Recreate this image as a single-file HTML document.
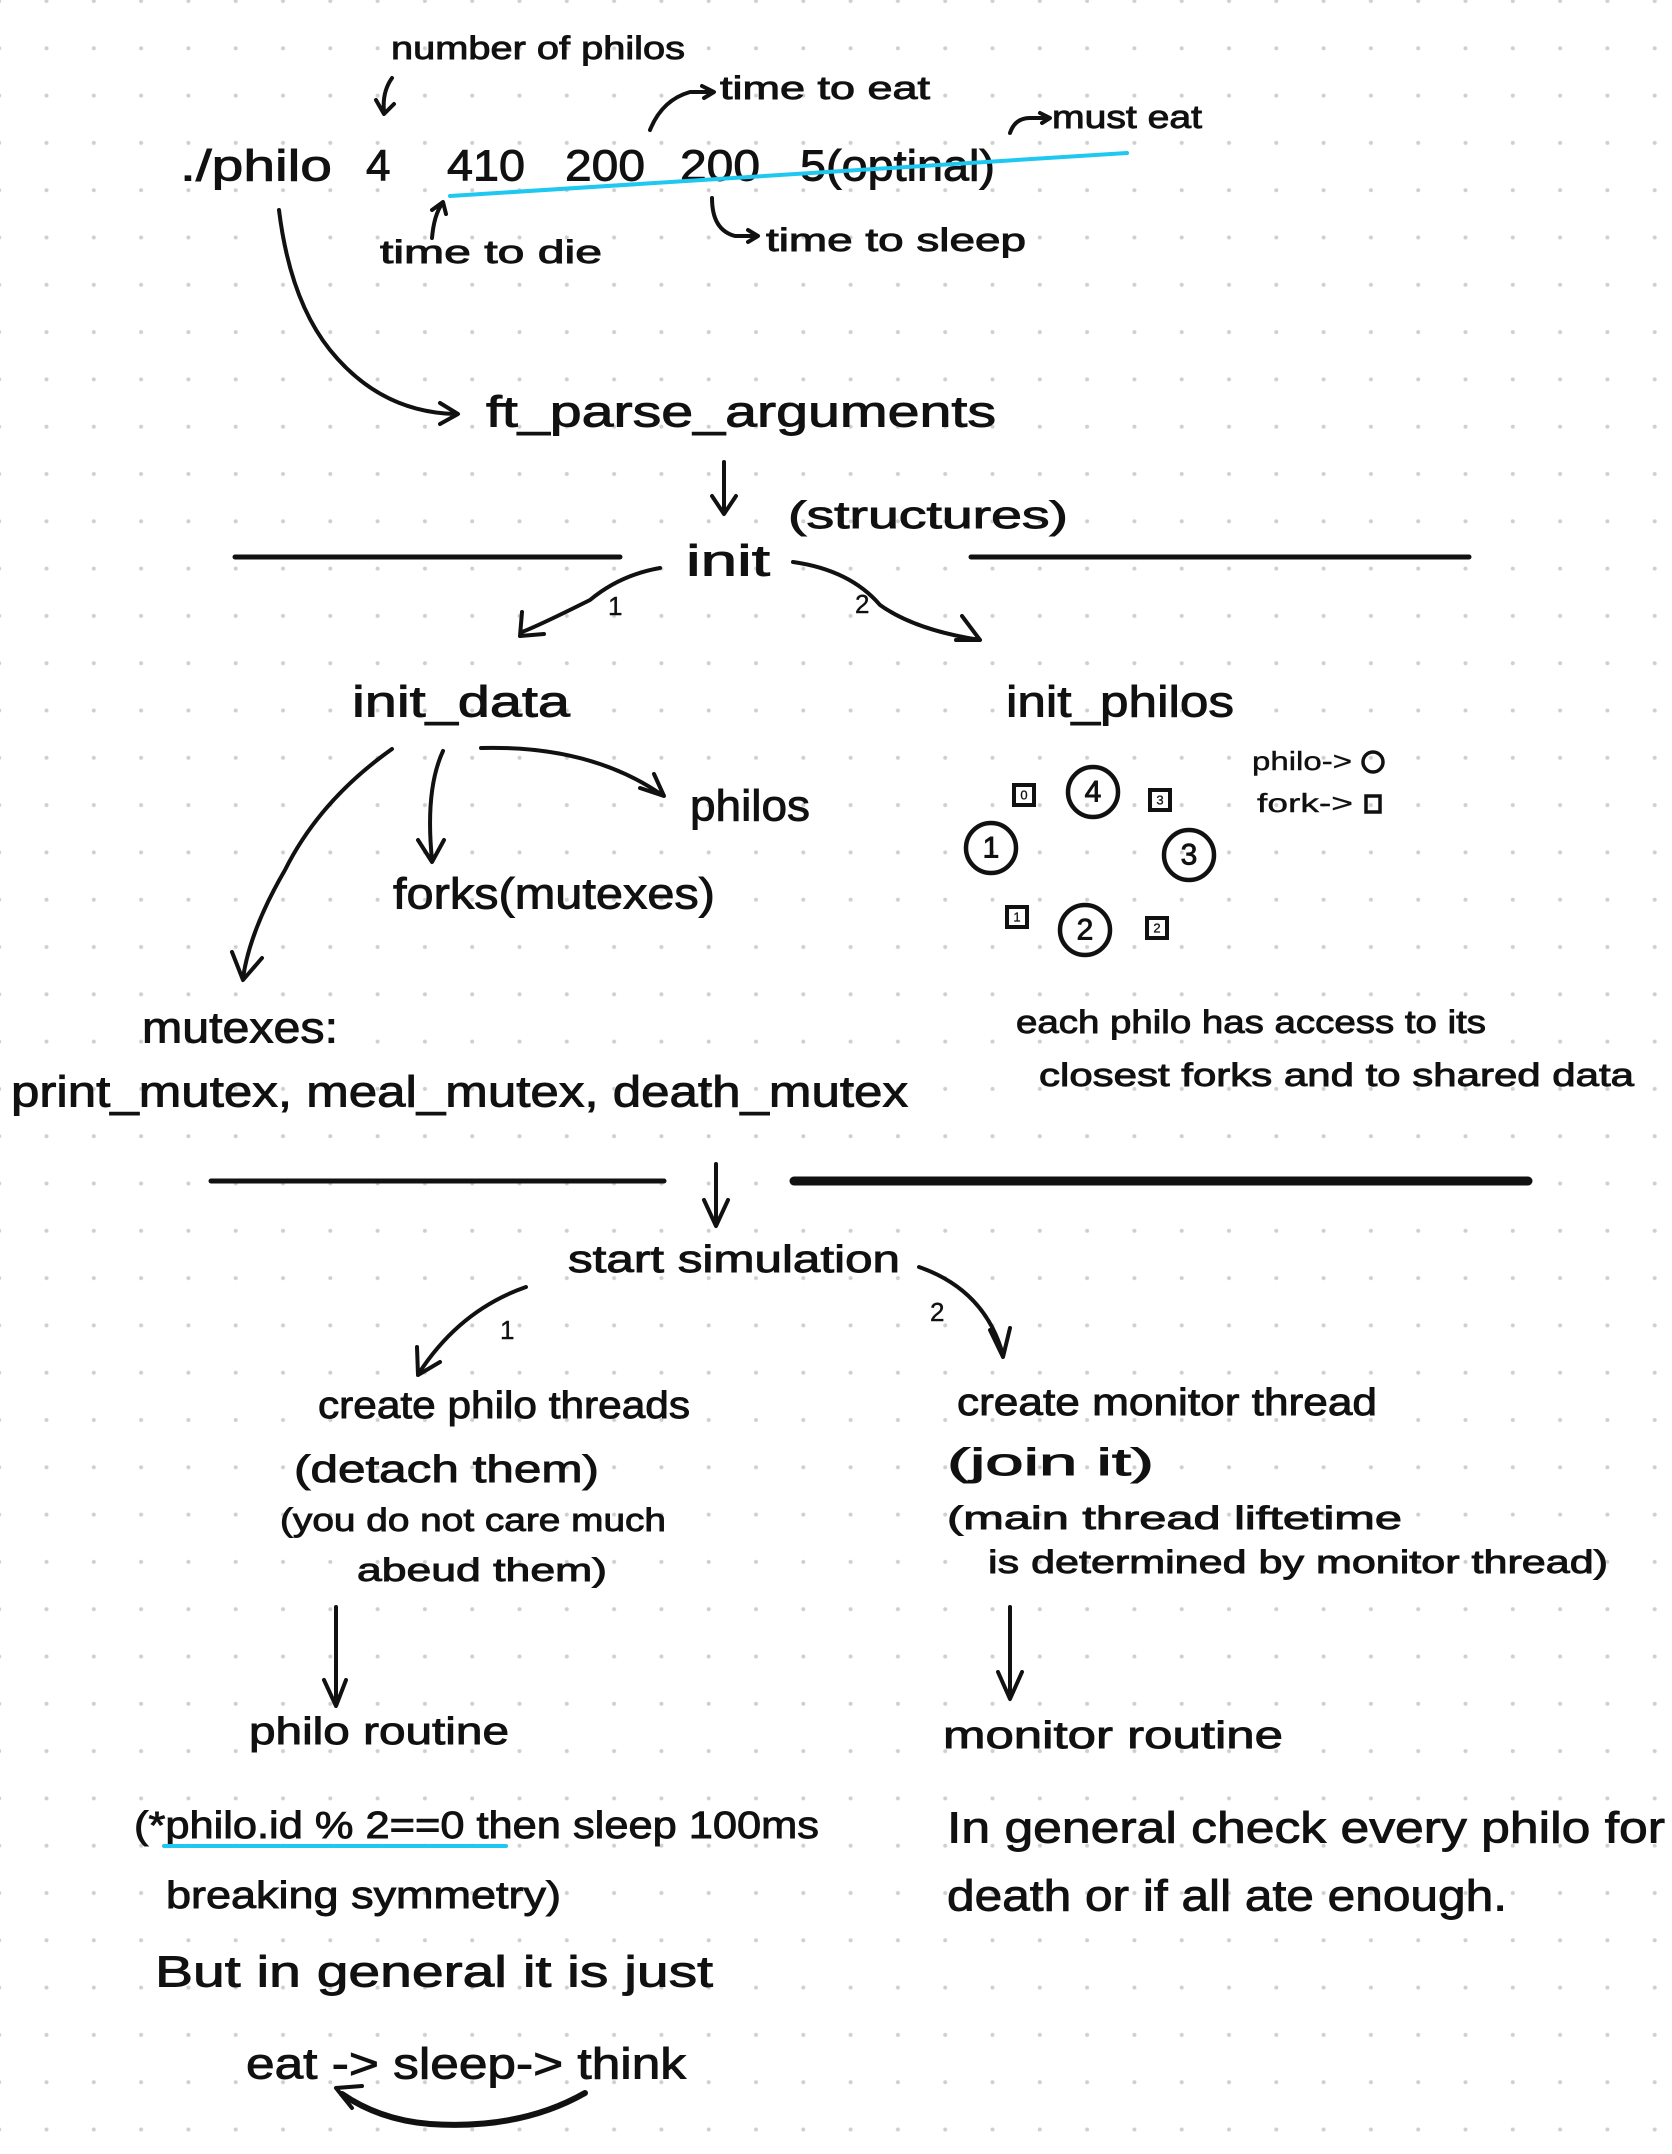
<!DOCTYPE html>
<html><head><meta charset="utf-8"><style>
html,body{margin:0;padding:0;background:#fff;}
svg{display:block;}
text{font-family:"Liberation Sans",sans-serif;fill:#111;stroke:#111;stroke-width:0.9;dominant-baseline:central;}
.t{font-size:44px;}
.m{font-size:38px;}
.s{font-size:32px;}
.xs{font-size:26px;stroke-width:0.4;}
path,line{stroke:#111;fill:none;stroke-width:4;stroke-linecap:round;stroke-linejoin:round;}
</style></head><body>
<svg width="1672" height="2154" viewBox="0 0 1672 2154" xmlns="http://www.w3.org/2000/svg">
<defs>
<pattern id="d" x="22.85" y="-22.65" width="47.3" height="47.3" patternUnits="userSpaceOnUse">
<circle cx="23.65" cy="23.65" r="2" fill="#cfcfcf"/>
</pattern>
</defs>
<rect width="1672" height="2154" fill="#fff"/>
<rect width="1672" height="2154" fill="url(#d)"/>

<!-- top command -->
<text class="s" x="391" y="48" textLength="294" lengthAdjust="spacingAndGlyphs">number of philos</text>
<path d="M392 78 Q382 92 384 112 M376 100 L384 114 L394 104"/>
<text class="t" x="180" y="166" textLength="152" lengthAdjust="spacingAndGlyphs">./philo</text>
<text class="t" x="366" y="166">4</text>
<text class="t" x="447" y="166" textLength="78" lengthAdjust="spacingAndGlyphs">410</text>
<text class="t" x="565" y="166" textLength="80" lengthAdjust="spacingAndGlyphs">200</text>
<text class="t" x="680" y="166" textLength="80" lengthAdjust="spacingAndGlyphs">200</text>
<text class="t" x="800" y="166" textLength="195" lengthAdjust="spacingAndGlyphs">5(optinal)</text>
<line x1="450" y1="196" x2="1127" y2="153" style="stroke:#1ec8f0;stroke-width:4"/>
<path d="M650 130 Q662 100 690 92 L712 92 M702 86 L714 92 L704 98"/>
<text class="s" x="720" y="88" textLength="210" lengthAdjust="spacingAndGlyphs">time to eat</text>
<path d="M1010 133 Q1015 118 1030 118 L1048 118 M1040 113 L1050 118 L1042 123"/>
<text class="s" x="1052" y="117" textLength="150" lengthAdjust="spacingAndGlyphs">must eat</text>
<path d="M432 238 Q434 215 442 204 M432 210 L443 202 L446 214"/>
<text class="s" x="380" y="252" textLength="222" lengthAdjust="spacingAndGlyphs">time to die</text>
<path d="M712 198 Q712 230 735 236 L756 236 M748 230 L758 236 L748 242"/>
<text class="s" x="766" y="240" textLength="260" lengthAdjust="spacingAndGlyphs">time to sleep</text>

<path d="M279 210 Q290 300 330 350 Q380 412 455 414 M440 403 L458 414 L440 424"/>
<text class="t" x="486" y="412" textLength="510" lengthAdjust="spacingAndGlyphs">ft_parse_arguments</text>
<path d="M724 462 L724 512 M712 496 L724 514 L736 496"/>
<text class="m" x="788" y="516" textLength="280" lengthAdjust="spacingAndGlyphs">(structures)</text>

<line x1="235" y1="557" x2="620" y2="557" style="stroke-width:5"/>
<line x1="971" y1="557" x2="1469" y2="557" style="stroke-width:5"/>
<text class="t" x="686" y="561" textLength="84" lengthAdjust="spacingAndGlyphs">init</text>
<path d="M660 568 Q620 575 590 600 Q540 625 522 632 M522 612 L520 636 L544 634"/>
<text class="xs" x="608" y="606">1</text>
<path d="M793 562 Q850 570 880 605 Q915 630 980 640 M962 616 L980 640 L956 640"/>
<text class="xs" x="855" y="604">2</text>

<!-- init_data -->
<text class="t" x="352" y="702" textLength="218" lengthAdjust="spacingAndGlyphs">init_data</text>
<path d="M392 749 Q320 800 285 870 Q250 930 243 978 M232 952 L243 980 L262 958"/>
<path d="M443 751 Q425 790 432 860 M418 840 L432 862 L444 840"/>
<path d="M481 748 Q590 745 662 795 M640 788 L664 796 L654 774"/>
<text class="t" x="690" y="806" textLength="120" lengthAdjust="spacingAndGlyphs">philos</text>
<text class="t" x="393" y="894" textLength="322" lengthAdjust="spacingAndGlyphs">forks(mutexes)</text>
<text class="t" x="142" y="1028" textLength="196" lengthAdjust="spacingAndGlyphs">mutexes:</text>
<text class="t" x="11" y="1092" textLength="897" lengthAdjust="spacingAndGlyphs">print_mutex, meal_mutex, death_mutex</text>

<!-- init_philos -->
<text class="t" x="1006" y="702" textLength="228" lengthAdjust="spacingAndGlyphs">init_philos</text>
<circle cx="1093" cy="792" r="25" fill="none" stroke="#111" stroke-width="4.5"/>
<circle cx="991" cy="848" r="25" fill="none" stroke="#111" stroke-width="4.5"/>
<circle cx="1189" cy="855" r="25" fill="none" stroke="#111" stroke-width="4.5"/>
<circle cx="1085" cy="930" r="25" fill="none" stroke="#111" stroke-width="4.5"/>
<rect x="1014" y="785" width="20" height="20" fill="none" stroke="#111" stroke-width="4"/>
<rect x="1150" y="790" width="20" height="20" fill="none" stroke="#111" stroke-width="4"/>
<rect x="1007" y="907" width="20" height="20" fill="none" stroke="#111" stroke-width="4"/>
<rect x="1147" y="918" width="20" height="20" fill="none" stroke="#111" stroke-width="4"/>
<text x="1093" y="792" font-size="30" text-anchor="middle">4</text>
<text x="991" y="848" font-size="30" text-anchor="middle">1</text>
<text x="1189" y="855" font-size="30" text-anchor="middle">3</text>
<text x="1085" y="930" font-size="30" text-anchor="middle">2</text>
<text x="1024" y="795" font-size="13" text-anchor="middle" style="stroke-width:0.3">0</text>
<text x="1160" y="800" font-size="13" text-anchor="middle" style="stroke-width:0.3">3</text>
<text x="1017" y="917" font-size="13" text-anchor="middle" style="stroke-width:0.3">1</text>
<text x="1157" y="928" font-size="13" text-anchor="middle" style="stroke-width:0.3">2</text>
<text class="xs" x="1252" y="761" textLength="100" lengthAdjust="spacingAndGlyphs">philo-&gt;</text>
<circle cx="1373" cy="762" r="10" fill="none" stroke="#111" stroke-width="3.5"/>
<text class="xs" x="1257" y="803" textLength="96" lengthAdjust="spacingAndGlyphs">fork-&gt;</text>
<rect x="1366" y="796" width="14" height="16" fill="none" stroke="#111" stroke-width="3.5"/>
<text class="s" x="1016" y="1022" textLength="470" lengthAdjust="spacingAndGlyphs">each philo has access to its</text>
<text class="s" x="1039" y="1075" textLength="595" lengthAdjust="spacingAndGlyphs">closest forks and to shared data</text>

<!-- separators -->
<line x1="211" y1="1181" x2="664" y2="1181" style="stroke-width:5"/>
<line x1="794" y1="1181" x2="1528" y2="1181" style="stroke-width:9"/>
<path d="M716 1164 L716 1224 M704 1200 L716 1226 L728 1200"/>
<text class="m" x="568" y="1260" textLength="332" lengthAdjust="spacingAndGlyphs">start simulation</text>
<path d="M526 1287 Q460 1310 419 1373 M417 1347 L418 1375 L440 1362"/>
<text class="xs" x="500" y="1330">1</text>
<path d="M919 1267 Q985 1290 1003 1355 M990 1330 L1003 1357 L1010 1328"/>
<text class="xs" x="930" y="1312">2</text>

<text class="m" x="318" y="1406" textLength="372" lengthAdjust="spacingAndGlyphs">create philo threads</text>
<text class="m" x="294" y="1470" textLength="305" lengthAdjust="spacingAndGlyphs">(detach them)</text>
<text class="s" x="280" y="1520" textLength="386" lengthAdjust="spacingAndGlyphs">(you do not care much</text>
<text class="s" x="357" y="1570" textLength="250" lengthAdjust="spacingAndGlyphs">abeud them)</text>

<text class="m" x="957" y="1403" textLength="420" lengthAdjust="spacingAndGlyphs">create monitor thread</text>
<text class="m" x="947" y="1463" textLength="207" lengthAdjust="spacingAndGlyphs">(join it)</text>
<text class="s" x="947" y="1518" textLength="455" lengthAdjust="spacingAndGlyphs">(main thread liftetime</text>
<text class="s" x="988" y="1562" textLength="620" lengthAdjust="spacingAndGlyphs">is determined by monitor thread)</text>

<path d="M336 1607 L336 1704 M324 1680 L336 1706 L346 1680"/>
<path d="M1010 1607 L1010 1697 M998 1672 L1010 1699 L1022 1672"/>

<text class="m" x="249" y="1732" textLength="260" lengthAdjust="spacingAndGlyphs">philo routine</text>
<text class="m" x="943" y="1736" textLength="340" lengthAdjust="spacingAndGlyphs">monitor routine</text>

<text class="m" x="134" y="1826" textLength="685" lengthAdjust="spacingAndGlyphs">(*philo.id % 2==0 then sleep 100ms</text>
<line x1="164" y1="1846" x2="506" y2="1846" style="stroke:#1ec8f0;stroke-width:4"/>
<text class="m" x="166" y="1896" textLength="395" lengthAdjust="spacingAndGlyphs">breaking symmetry)</text>
<text class="t" x="155" y="1972" textLength="558" lengthAdjust="spacingAndGlyphs">But in general it is just</text>
<text class="t" x="246" y="2064" textLength="440" lengthAdjust="spacingAndGlyphs">eat -&gt; sleep-&gt; think</text>
<path d="M585 2093 Q520 2130 430 2124 Q380 2120 342 2094" style="stroke-width:6"/>
<path d="M336 2088 L352 2108 M336 2088 L362 2086"/>

<text class="t" x="947" y="1828" textLength="718" lengthAdjust="spacingAndGlyphs">In general check every philo for</text>
<text class="t" x="947" y="1896" textLength="560" lengthAdjust="spacingAndGlyphs">death or if all ate enough.</text>
</svg>
</body></html>
